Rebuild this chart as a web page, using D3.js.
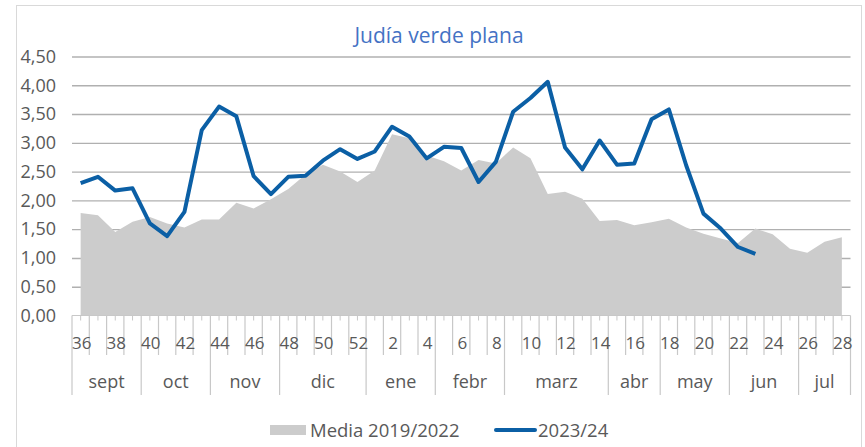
<!DOCTYPE html>
<html>
<head>
<meta charset="utf-8">
<script src="https://cdn.jsdelivr.net/npm/d3@7"></script>
<style>
  html, body { margin: 0; padding: 0; background: #ffffff; }
  svg { display: block; }
  text { font-family: "Open Sans", "DejaVu Sans", sans-serif; }
</style>
</head>
<body>
<svg id="chart" width="865" height="447"></svg>
<script>
// Week numbers of the campaign (September to July)
const weeks = [36,37,38,39,40,41,42,43,44,45,46,47,48,49,50,51,52,
               1,2,3,4,5,6,7,8,9,10,11,12,13,14,15,16,17,18,19,20,21,22,23,24,25,26,27,28];
// Month groups over the weeks and how many weeks each spans
const months = ["sept","oct","nov","dic","ene","febr","marz","abr","may","jun","jul"];
const monthSpans = [4,4,4,5,4,4,6,3,4,4,3];
// Average price 2019/2022 (€/kg)
const media = [1.78,1.74,1.45,1.63,1.71,1.60,1.53,1.67,1.67,1.96,1.86,2.02,2.20,2.45,2.62,2.50,2.32,
               2.52,3.15,3.08,2.78,2.68,2.52,2.70,2.64,2.92,2.73,2.11,2.15,2.03,1.64,1.66,1.57,1.62,1.68,
               1.53,1.42,1.34,1.26,1.51,1.41,1.16,1.09,1.28,1.36];
// Current campaign 2023/24 (€/kg), up to week 23
const campaign = [2.30,2.41,2.17,2.21,1.60,1.38,1.80,3.22,3.63,3.46,2.42,2.11,2.41,2.43,2.69,2.89,2.72,
                  2.85,3.28,3.11,2.73,2.93,2.91,2.32,2.67,3.54,3.78,4.06,2.92,2.54,3.04,2.62,2.64,3.41,3.58,
                  2.61,1.77,1.51,1.19,1.07];
const yTicks = [0,0.5,1,1.5,2,2.5,3,3.5,4,4.5];
const seriesNames = ["Media 2019/2022", "2023/24"];
const titleText = "Judía verde plana";

const svg = d3.select("#chart");
const plotL = 72, plotR = 850.5, plotT = 56.5, plotB = 315.5;
const textColor = "#595959";
const blue = "#0b5fa5";
const grey = "#cccccc";

// chart frame
svg.append("rect")
  .attr("x", 16.5).attr("y", 5.5).attr("width", 845).attr("height", 460)
  .attr("fill", "#ffffff").attr("stroke", "#d9d9d9").attr("stroke-width", 1);

const idx = d3.range(weeks.length);
const x = d3.scaleBand().domain(idx).range([plotL, plotR]).padding(0);
const cx = i => x(i) + x.bandwidth() / 2;
const y = d3.scaleLinear().domain([0, 4.5]).range([plotB, plotT]);

const locale = d3.formatLocale({ decimal: ",", thousands: ".", grouping: [3], currency: ["", "€"] });
const fmt = locale.format(".2f");

// y axis with gridlines
const yAxis = svg.append("g")
  .attr("transform", `translate(${plotL},0)`)
  .call(d3.axisLeft(y).tickValues(yTicks).tickFormat(fmt).tickSize(-(plotR - plotL)).tickPadding(16));
yAxis.select(".domain").remove();
yAxis.selectAll(".tick line")
  .attr("stroke", "#b0b0b0").attr("stroke-width", 1.4)
  .filter(d => d === 0).remove();
yAxis.selectAll(".tick text")
  .attr("fill", textColor).style("font-size", "18px");

// average area
svg.append("path")
  .datum(media)
  .attr("fill", grey)
  .attr("d", d3.area().x((d, i) => cx(i)).y0(y(0)).y1(d => y(d)));

// current campaign line
svg.append("path")
  .datum(campaign)
  .attr("fill", "none")
  .attr("stroke", blue)
  .attr("stroke-width", 4)
  .attr("stroke-linejoin", "round")
  .attr("d", d3.line().x((d, i) => cx(i)).y(d => y(d)));

// category axis: baseline, ticks, week labels and month groups
const ax = svg.append("g");
const lineCol = "#c8c8c8";
ax.append("line")
  .attr("x1", plotL).attr("x2", plotR).attr("y1", plotB).attr("y2", plotB)
  .attr("stroke", lineCol).attr("stroke-width", 1.2);
ax.selectAll("line.minor").data(idx).join("line")
  .attr("class", "minor")
  .attr("x1", i => cx(i)).attr("x2", i => cx(i))
  .attr("y1", plotB).attr("y2", plotB + 5)
  .attr("stroke", lineCol).attr("stroke-width", 1);
const bx = i => plotL + x.step() * i;
const bounds = d3.range(weeks.length + 1);
ax.selectAll("line.wk").data(bounds).join("line")
  .attr("class", "wk")
  .attr("x1", i => bx(i)).attr("x2", i => bx(i))
  .attr("y1", plotB).attr("y2", 355)
  .attr("stroke", lineCol).attr("stroke-width", 1.2);
ax.selectAll("text.wk").data(idx.filter(i => i % 2 === 0)).join("text")
  .attr("class", "wk")
  .attr("x", i => cx(i) + 1).attr("y", 349)
  .attr("text-anchor", "middle")
  .attr("fill", textColor).style("font-size", "17px")
  .text(i => weeks[i]);

let start = 0;
const groups = months.map((m, k) => {
  const g = { name: m, s: start, e: start + monthSpans[k] };
  start += monthSpans[k];
  return g;
});
ax.selectAll("line.mo").data([0, ...groups.map(g => g.e)]).join("line")
  .attr("class", "mo")
  .attr("x1", i => bx(i)).attr("x2", i => bx(i))
  .attr("y1", 355).attr("y2", 395)
  .attr("stroke", lineCol).attr("stroke-width", 1.2);
ax.selectAll("text.mo").data(groups).join("text")
  .attr("class", "mo")
  .attr("x", g => (bx(g.s) + bx(g.e)) / 2).attr("y", 388)
  .attr("text-anchor", "middle")
  .attr("fill", textColor).style("font-size", "18px")
  .text(g => g.name);

// title
svg.append("text")
  .attr("x", 439).attr("y", 43)
  .attr("text-anchor", "middle")
  .attr("fill", "#4472c4").style("font-size", "21px")
  .text(titleText);

// legend
const lg = svg.append("g");
lg.append("rect").attr("x", 270).attr("y", 425).attr("width", 36).attr("height", 10).attr("fill", grey);
lg.append("text").attr("x", 310).attr("y", 437).attr("fill", textColor).style("font-size", "18.5px").text(seriesNames[0]);
lg.append("line").attr("x1", 496).attr("x2", 535).attr("y1", 430).attr("y2", 430)
  .attr("stroke", blue).attr("stroke-width", 4).attr("stroke-linecap", "round");
lg.append("text").attr("x", 538).attr("y", 437).attr("fill", textColor).style("font-size", "18.5px").text(seriesNames[1]);
</script>
</body>
</html>
